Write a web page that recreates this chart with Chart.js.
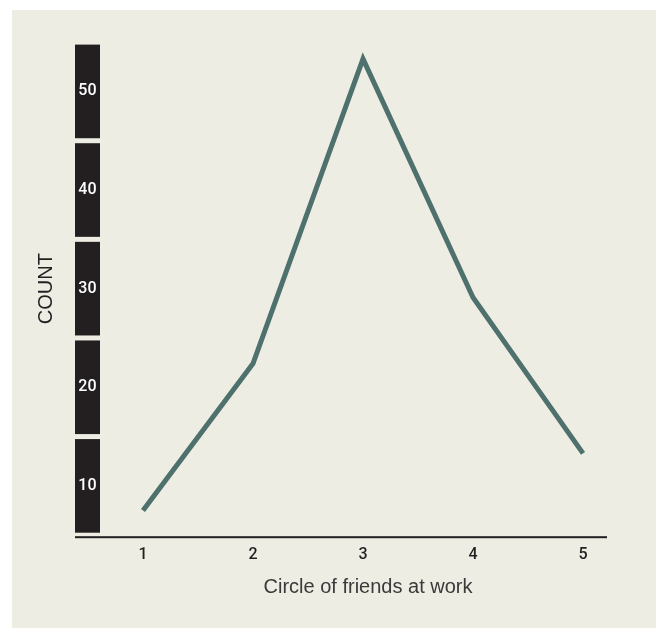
<!DOCTYPE html>
<html>
<head>
<meta charset="utf-8">
<script src="https://cdn.jsdelivr.net/npm/chart.js@4"></script>
<style>
  html, body { margin: 0; padding: 0; background: #ffffff; }
  canvas { display: block; }
</style>
</head>
<body>
<canvas id="c" width="657" height="628"></canvas>
<script>
// ---- data ----
const categories = [1, 2, 3, 4, 5];
const counts = [2.5, 17.4, 48.3, 24.1, 8.3];
const yTickValues = [5, 15, 25, 35, 45];
const yTickLabels = ['10', '20', '30', '40', '50'];
const blockEdges = [0, 10, 20, 30, 40, 50];
const xTitle = 'Circle of friends at work';
const yTitle = 'COUNT';

const BEIGE = '#eeede3';
const DARK = '#231f20';
const LINE = '#4e716d';

const bgPlugin = {
  id: 'bgAndBlocks',
  beforeDraw(chart) {
    const ctx = chart.ctx;
    const y = chart.scales.y;
    ctx.save();
    ctx.fillStyle = '#ffffff';
    ctx.fillRect(0, 0, chart.width, chart.height);
    ctx.fillStyle = BEIGE;
    ctx.fillRect(12, 10, chart.width - 13, chart.height - 10);
    // black blocks of the y axis
    ctx.fillStyle = DARK;
    for (let i = 0; i < blockEdges.length - 1; i++) {
      const top = y.getPixelForValue(blockEdges[i + 1]) + 2.5;
      const bot = y.getPixelForValue(blockEdges[i]) - 2.5;
      ctx.fillRect(75, top, 25, bot - top);
    }
    // x axis line
    const y0 = y.getPixelForValue(0) + 2;
    ctx.fillRect(75, y0 - 1, 532, 2);
    ctx.restore();
  }
};

new Chart(document.getElementById('c'), {
  type: 'line',
  data: {
    datasets: [{
      data: categories.map((c, i) => ({ x: c, y: counts[i] })),
      borderColor: LINE,
      borderWidth: 5,
      pointRadius: 0,
      tension: 0,
      borderJoinStyle: 'miter',
      borderCapStyle: 'butt',
      fill: false
    }]
  },
  options: {
    responsive: false,
    animation: false,
    events: [],
    layout: { padding: { left: 12, right: 50, top: 39.3, bottom: 0 } },
    plugins: { legend: { display: false }, tooltip: { enabled: false } },
    scales: {
      x: {
        type: 'linear',
        min: 0.8727,
        max: 5.218,
        grid: { display: false, drawTicks: false },
        border: { display: false },
        afterBuildTicks(axis) { axis.ticks = categories.map(v => ({ value: v })); },
        afterFit(axis) { axis.height = 628 - 535.2; },
        ticks: {
          padding: 10,
          color: DARK,
          font: { family: 'Roboto, Liberation Sans, sans-serif', size: 16, weight: '500' },
          callback: (v) => String(v)
        },
        title: {
          display: true,
          text: xTitle,
          color: '#3a3a3a',
          font: { family: 'Liberation Sans, Arial, sans-serif', size: 20 },
          padding: { top: 0, bottom: 29 }
        }
      },
      y: {
        type: 'linear',
        min: 0,
        max: 50,
        grid: { display: false, drawTicks: false },
        border: { display: false },
        afterBuildTicks(axis) { axis.ticks = yTickValues.map(v => ({ value: v })); },
        afterFit(axis) { axis.width = 129 - 12; },
        ticks: {
          padding: 32.5,
          crossAlign: 'center',
          color: '#ffffff',
          font: { family: 'Roboto, Liberation Sans, sans-serif', size: 16, weight: '500' },
          callback: (v, i) => yTickLabels[i]
        },
        title: {
          display: true,
          text: yTitle,
          color: DARK,
          font: { family: 'Liberation Sans, Arial, sans-serif', size: 20 },
          padding: { top: 22, bottom: 0 }
        }
      }
    }
  },
  plugins: [bgPlugin]
});
</script>
</body>
</html>
